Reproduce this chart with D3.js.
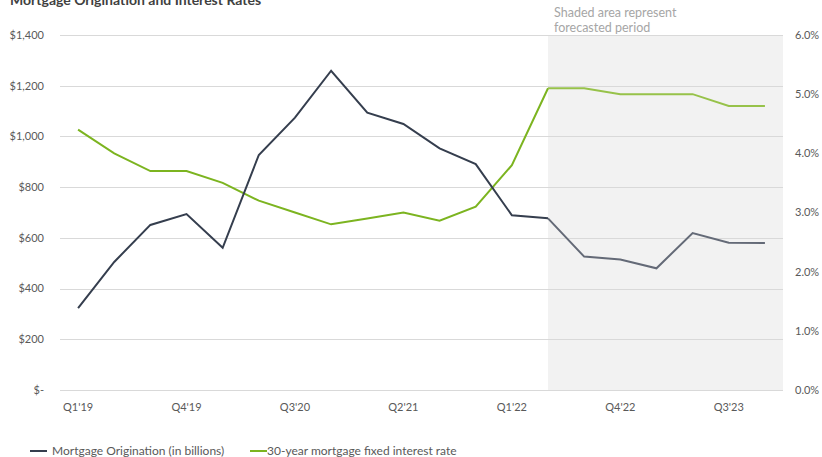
<!DOCTYPE html>
<html>
<head>
<meta charset="utf-8">
<script src="https://cdn.jsdelivr.net/npm/d3@7"></script>
<style>
	body { margin: 0; background: #fff; }
	svg { display: block; font-family: Lato, "Open Sans", sans-serif; }
	.tick-label { font-size: 11px; fill: #595959; }
</style>
</head>
<body>
<svg id="chart" width="822" height="457"></svg>
<script>
// quarters, Q1'19 .. Q4'23
var quarters = ["Q1'19", "Q2'19", "Q3'19", "Q4'19", "Q1'20", "Q2'20", "Q3'20", "Q4'20",
	"Q1'21", "Q2'21", "Q3'21", "Q4'21", "Q1'22", "Q2'22", "Q3'22", "Q4'22",
	"Q1'23", "Q2'23", "Q3'23", "Q4'23"];

// origination, billions of $
var origination = [323, 505, 651, 694, 561, 927, 1074, 1259,
	1094, 1049, 953, 891, 689, 677, 526, 515,
	480, 619, 581, 580];

// 30-year fixed rate, %
var interestRate = [4.4, 4.0, 3.7, 3.7, 3.5, 3.2, 3.0, 2.8,
	2.9, 3.0, 2.86, 3.1, 3.8, 5.1, 5.1, 5.0,
	5.0, 5.0, 4.8, 4.8];

var xTickLabels = ["Q1'19", "Q4'19", "Q3'20", "Q2'21", "Q1'22", "Q4'22", "Q3'23"];
var leftTicks = [0, 200, 400, 600, 800, 1000, 1200, 1400];
var rightTicks = [0, 1, 2, 3, 4, 5, 6];
var forecastStart = "Q2'22";

(function() {

	var svg = d3.select("#chart");

	// plot box (window.top is read-only, so keep these local)
	var plotLeft = 60, plotRight = 783, plotTop = 35, plotBottom = 390;

	var x = d3.scalePoint()
		.domain(quarters)
		.range([plotLeft, plotRight])
		.padding(0.5);

	var yLeft = d3.scaleLinear().domain([0, 1400]).range([plotBottom, plotTop]);
	var yRight = d3.scaleLinear().domain([0, 6]).range([plotBottom, plotTop]);

	// title, partly cut off at the top in the original
	svg.append("text")
		.attr("x", 10)
		.attr("y", 5)
		.attr("font-size", 14)
		.attr("font-weight", "bold")
		.attr("fill", "#404040")
		.text("Mortgage Origination and Interest Rates");

	// forecast shading
	var fx = x(forecastStart);
	svg.append("rect")
		.attr("x", fx)
		.attr("y", plotTop)
		.attr("width", plotRight - fx)
		.attr("height", plotBottom - plotTop)
		.attr("fill", "#f2f2f2");

	svg.append("text")
		.attr("font-size", 12.5)
		.attr("fill", "#a6a6a6")
		.selectAll("tspan")
		.data(["Shaded area represent", "forecasted period"])
		.enter().append("tspan")
			.attr("x", fx + 6)
			.attr("y", function(d, i) { return 17 + i * 15; })
			.text(function(d) { return d; });

	// gridlines
	svg.append("g")
		.selectAll("line")
		.data(leftTicks)
		.enter().append("line")
			.attr("x1", plotLeft)
			.attr("x2", plotRight)
			.attr("y1", function(d) { return Math.round(yLeft(d)) + 0.5; })
			.attr("y2", function(d) { return Math.round(yLeft(d)) + 0.5; })
			.attr("stroke", "#d9d9d9")
			.attr("stroke-width", 1);

	// left axis
	var fmtLeft = function(d) { return d === 0 ? "$-" : "$" + d3.format(",")(d); };
	svg.append("g")
		.selectAll("text")
		.data(leftTicks)
		.enter().append("text")
			.attr("class", "tick-label")
			.attr("x", 44)
			.attr("y", function(d) { return yLeft(d); })
			.attr("dy", "0.35em")
			.attr("text-anchor", "end")
			.text(fmtLeft);

	// right axis
	svg.append("g")
		.selectAll("text")
		.data(rightTicks)
		.enter().append("text")
			.attr("class", "tick-label")
			.attr("x", 795)
			.attr("y", function(d) { return yRight(d); })
			.attr("dy", "0.35em")
			.text(function(d) { return d3.format(".1f")(d) + "%"; });

	// x axis labels
	svg.append("g")
		.selectAll("text")
		.data(xTickLabels)
		.enter().append("text")
			.attr("class", "tick-label")
			.attr("x", function(d) { return x(d); })
			.attr("y", 407)
			.attr("dy", "0.35em")
			.attr("text-anchor", "middle")
			.text(function(d) { return d; });

	// lines, actual part and forecast part
	var splitIdx = quarters.indexOf(forecastStart);

	function drawSeries(values, yScale, colorActual, colorForecast) {
		var pts = values.map(function(v, i) { return [x(quarters[i]), yScale(v)]; });
		var line = d3.line();

		svg.append("path")
			.attr("d", line(pts.slice(0, splitIdx + 1)))
			.attr("fill", "none")
			.attr("stroke", colorActual)
			.attr("stroke-width", 2);

		svg.append("path")
			.attr("d", line(pts.slice(splitIdx)))
			.attr("fill", "none")
			.attr("stroke", colorForecast)
			.attr("stroke-width", 2);
	}

	drawSeries(interestRate, yRight, "#7cb420", "#97c24a");
	drawSeries(origination, yLeft, "#353e4e", "#646a77");

	// legend
	var legend = svg.append("g").attr("font-size", 12).attr("fill", "#595959");
	var legendItems = [
		{label: "Mortgage Origination (in billions)", color: "#353e4e", x: 30, gap: 22},
		{label: "30-year mortgage fixed interest rate", color: "#7cb420", x: 250, gap: 17}
	];
	legendItems.forEach(function(item) {
		legend.append("line")
			.attr("x1", item.x)
			.attr("x2", item.x + 17)
			.attr("y1", 451)
			.attr("y2", 451)
			.attr("stroke", item.color)
			.attr("stroke-width", 2);
		legend.append("text")
			.attr("x", item.x + item.gap)
			.attr("y", 451)
			.attr("dy", "0.35em")
			.text(item.label);
	});
})();
</script>
</body>
</html>
